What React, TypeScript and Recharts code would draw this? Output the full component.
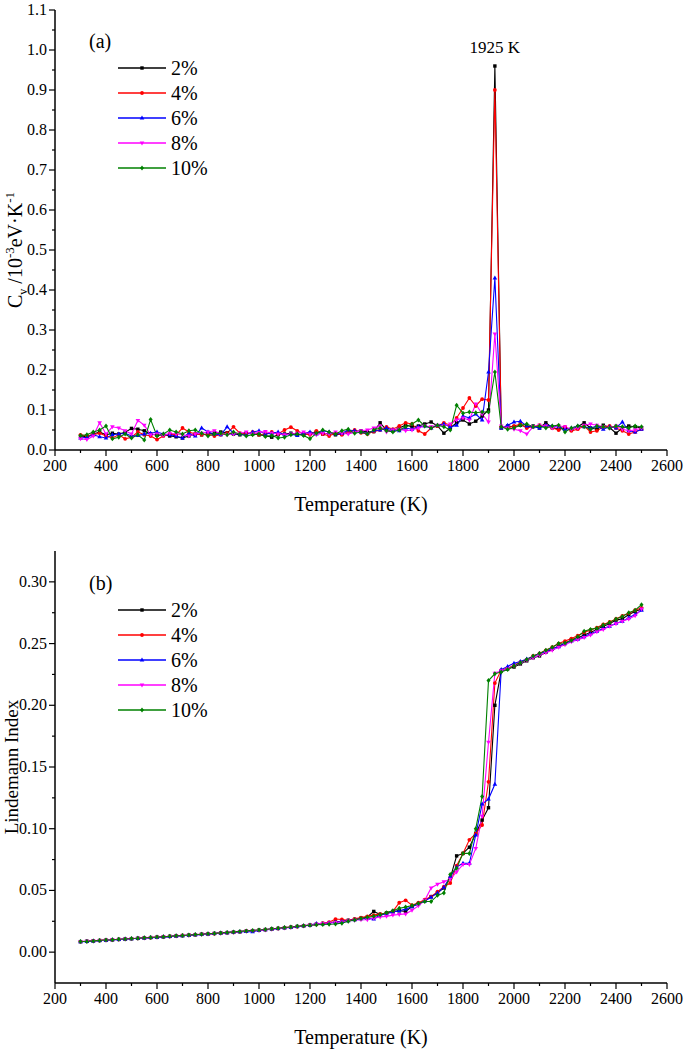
import React from "react";
import { LineChart, Line, XAxis, YAxis, ReferenceDot } from "recharts";

// temperatures (K), one point every 25 K
const temperature = [
  300, 325, 350, 375, 400, 425, 450, 475, 500, 525,
  550, 575, 600, 625, 650, 675, 700, 725, 750, 775,
  800, 825, 850, 875, 900, 925, 950, 975, 1000, 1025,
  1050, 1075, 1100, 1125, 1150, 1175, 1200, 1225, 1250, 1275,
  1300, 1325, 1350, 1375, 1400, 1425, 1450, 1475, 1500, 1525,
  1550, 1575, 1600, 1625, 1650, 1675, 1700, 1725, 1750, 1775,
  1800, 1825, 1850, 1875, 1900, 1925, 1950, 1975, 2000, 2025,
  2050, 2075, 2100, 2125, 2150, 2175, 2200, 2225, 2250, 2275,
  2300, 2325, 2350, 2375, 2400, 2425, 2450, 2475, 2500,
];

const seriesNames = ["2%", "4%", "6%", "8%", "10%"];

// (a) heat capacity, 10^-3 eV/K
const cv2 = [
  0.035, 0.033, 0.040, 0.045, 0.038, 0.042, 0.040, 0.044, 0.054, 0.052,
  0.048, 0.040, 0.037, 0.038, 0.035, 0.033, 0.030, 0.035, 0.040, 0.038,
  0.040, 0.042, 0.045, 0.043, 0.040, 0.038, 0.042, 0.040, 0.038, 0.036,
  0.032, 0.038, 0.040, 0.042, 0.040, 0.038, 0.042, 0.045, 0.040, 0.042,
  0.038, 0.040, 0.044, 0.046, 0.048, 0.045, 0.046, 0.068, 0.050, 0.048,
  0.055, 0.062, 0.058, 0.060, 0.065, 0.070, 0.060, 0.042, 0.055, 0.068,
  0.075, 0.065, 0.072, 0.085, 0.100, 0.960, 0.055, 0.060, 0.058, 0.062,
  0.058, 0.060, 0.055, 0.068, 0.056, 0.052, 0.055, 0.050, 0.058, 0.068,
  0.055, 0.052, 0.062, 0.056, 0.042, 0.055, 0.060, 0.058, 0.055,
];
const cv4 = [
  0.038, 0.035, 0.038, 0.042, 0.035, 0.030, 0.038, 0.028, 0.032, 0.045,
  0.038, 0.035, 0.026, 0.035, 0.040, 0.038, 0.055, 0.045, 0.040, 0.038,
  0.040, 0.035, 0.038, 0.042, 0.058, 0.042, 0.040, 0.045, 0.038, 0.040,
  0.045, 0.040, 0.050, 0.057, 0.048, 0.040, 0.038, 0.048, 0.040, 0.035,
  0.042, 0.038, 0.045, 0.050, 0.043, 0.040, 0.046, 0.050, 0.058, 0.052,
  0.060, 0.068, 0.065, 0.048, 0.040, 0.055, 0.060, 0.068, 0.062, 0.080,
  0.105, 0.130, 0.110, 0.127, 0.125, 0.900, 0.058, 0.055, 0.060, 0.065,
  0.055, 0.058, 0.062, 0.060, 0.055, 0.050, 0.058, 0.048, 0.052, 0.060,
  0.045, 0.048, 0.058, 0.060, 0.055, 0.048, 0.040, 0.045, 0.052,
];
const cv6 = [
  0.030, 0.032, 0.038, 0.033, 0.030, 0.038, 0.040, 0.042, 0.035, 0.036,
  0.040, 0.042, 0.045, 0.040, 0.038, 0.035, 0.030, 0.042, 0.035, 0.055,
  0.045, 0.040, 0.038, 0.058, 0.042, 0.040, 0.038, 0.045, 0.048, 0.040,
  0.042, 0.045, 0.038, 0.040, 0.036, 0.042, 0.045, 0.040, 0.048, 0.045,
  0.040, 0.042, 0.050, 0.048, 0.045, 0.042, 0.048, 0.050, 0.055, 0.050,
  0.048, 0.055, 0.052, 0.058, 0.060, 0.055, 0.062, 0.065, 0.058, 0.062,
  0.085, 0.080, 0.090, 0.075, 0.195, 0.430, 0.055, 0.062, 0.070, 0.072,
  0.060, 0.058, 0.055, 0.062, 0.060, 0.058, 0.052, 0.055, 0.060, 0.058,
  0.055, 0.060, 0.052, 0.058, 0.055, 0.070, 0.048, 0.045, 0.052,
];
const cv8 = [
  0.028, 0.026, 0.035, 0.068, 0.040, 0.058, 0.055, 0.048, 0.040, 0.074,
  0.062, 0.038, 0.040, 0.036, 0.042, 0.040, 0.038, 0.035, 0.040, 0.042,
  0.045, 0.048, 0.040, 0.038, 0.040, 0.042, 0.045, 0.040, 0.044, 0.046,
  0.042, 0.040, 0.038, 0.040, 0.042, 0.045, 0.040, 0.038, 0.042, 0.040,
  0.045, 0.042, 0.040, 0.044, 0.048, 0.050, 0.055, 0.060, 0.045, 0.050,
  0.052, 0.048, 0.050, 0.055, 0.060, 0.058, 0.062, 0.060, 0.065, 0.075,
  0.080, 0.075, 0.115, 0.090, 0.070, 0.290, 0.060, 0.055, 0.052, 0.048,
  0.040, 0.058, 0.062, 0.060, 0.055, 0.060, 0.058, 0.052, 0.055, 0.062,
  0.065, 0.062, 0.058, 0.055, 0.060, 0.052, 0.048, 0.050, 0.055,
];
const cv10 = [
  0.036, 0.038, 0.045, 0.050, 0.060, 0.028, 0.032, 0.040, 0.030, 0.038,
  0.025, 0.076, 0.035, 0.040, 0.050, 0.045, 0.040, 0.048, 0.050, 0.042,
  0.035, 0.040, 0.042, 0.038, 0.045, 0.040, 0.035, 0.038, 0.040, 0.034,
  0.036, 0.030, 0.032, 0.038, 0.040, 0.036, 0.028, 0.042, 0.050, 0.045,
  0.040, 0.048, 0.052, 0.042, 0.045, 0.040, 0.050, 0.055, 0.048, 0.045,
  0.050, 0.058, 0.065, 0.075, 0.060, 0.055, 0.062, 0.058, 0.050, 0.112,
  0.092, 0.095, 0.093, 0.095, 0.095, 0.195, 0.058, 0.052, 0.055, 0.062,
  0.065, 0.058, 0.060, 0.055, 0.060, 0.062, 0.045, 0.055, 0.060, 0.058,
  0.052, 0.060, 0.058, 0.055, 0.060, 0.058, 0.055, 0.060, 0.058,
];

// (b) Lindemann index
const lind2 = [
  0.0085, 0.0088, 0.0091, 0.0094, 0.0097, 0.0100, 0.0103, 0.0106, 0.0109, 0.0112,
  0.0115, 0.0118, 0.0121, 0.0124, 0.0128, 0.0131, 0.0134, 0.0138, 0.0141, 0.0145,
  0.0148, 0.0152, 0.0155, 0.0158, 0.0162, 0.0166, 0.0170, 0.0174, 0.0178, 0.0183,
  0.0188, 0.0192, 0.0197, 0.0202, 0.0208, 0.0214, 0.0219, 0.0225, 0.0232, 0.0238,
  0.0245, 0.0250, 0.0258, 0.0265, 0.0275, 0.0285, 0.0330, 0.0305, 0.0318, 0.0330,
  0.0335, 0.0330, 0.0370, 0.0392, 0.0418, 0.0450, 0.0480, 0.0520, 0.0600, 0.0780,
  0.0800, 0.0850, 0.0960, 0.1070, 0.1170, 0.2000, 0.2280, 0.2295, 0.2310, 0.2335,
  0.2360, 0.2385, 0.2400, 0.2430, 0.2455, 0.2480, 0.2500, 0.2530, 0.2545, 0.2570,
  0.2590, 0.2615, 0.2640, 0.2660, 0.2690, 0.2700, 0.2735, 0.2760, 0.2780,
];
const lind4 = [
  0.0086, 0.0088, 0.0092, 0.0095, 0.0098, 0.0100, 0.0104, 0.0106, 0.0110, 0.0112,
  0.0116, 0.0118, 0.0122, 0.0125, 0.0127, 0.0131, 0.0135, 0.0137, 0.0141, 0.0144,
  0.0148, 0.0150, 0.0154, 0.0158, 0.0160, 0.0165, 0.0170, 0.0173, 0.0178, 0.0182,
  0.0187, 0.0193, 0.0199, 0.0203, 0.0207, 0.0213, 0.0220, 0.0226, 0.0235, 0.0242,
  0.0268, 0.0265, 0.0258, 0.0270, 0.0280, 0.0290, 0.0300, 0.0310, 0.0315, 0.0330,
  0.0400, 0.0420, 0.0380, 0.0400, 0.0425, 0.0450, 0.0490, 0.0530, 0.0560, 0.0700,
  0.0800, 0.0910, 0.0960, 0.1030, 0.1380, 0.2180, 0.2285, 0.2300, 0.2325, 0.2350,
  0.2370, 0.2400, 0.2420, 0.2445, 0.2470, 0.2500, 0.2520, 0.2540, 0.2565, 0.2590,
  0.2610, 0.2630, 0.2655, 0.2675, 0.2700, 0.2725, 0.2745, 0.2770, 0.2790,
];
const lind6 = [
  0.0084, 0.0087, 0.0090, 0.0094, 0.0096, 0.0100, 0.0102, 0.0106, 0.0108, 0.0112,
  0.0114, 0.0118, 0.0120, 0.0124, 0.0126, 0.0130, 0.0133, 0.0137, 0.0140, 0.0144,
  0.0147, 0.0151, 0.0155, 0.0158, 0.0162, 0.0166, 0.0168, 0.0165, 0.0177, 0.0182,
  0.0187, 0.0192, 0.0198, 0.0202, 0.0207, 0.0213, 0.0220, 0.0232, 0.0230, 0.0236,
  0.0242, 0.0248, 0.0255, 0.0262, 0.0270, 0.0275, 0.0268, 0.0300, 0.0312, 0.0325,
  0.0335, 0.0350, 0.0368, 0.0392, 0.0415, 0.0445, 0.0480, 0.0525, 0.0610, 0.0690,
  0.0720, 0.0720, 0.0950, 0.1200, 0.1240, 0.1360, 0.2290, 0.2315, 0.2340, 0.2355,
  0.2375, 0.2395, 0.2420, 0.2435, 0.2460, 0.2475, 0.2500, 0.2520, 0.2535, 0.2555,
  0.2580, 0.2600, 0.2625, 0.2640, 0.2665, 0.2680, 0.2710, 0.2735, 0.2770,
];
const lind8 = [
  0.0085, 0.0088, 0.0091, 0.0094, 0.0097, 0.0100, 0.0103, 0.0106, 0.0109, 0.0112,
  0.0115, 0.0118, 0.0121, 0.0124, 0.0127, 0.0130, 0.0134, 0.0137, 0.0141, 0.0144,
  0.0147, 0.0150, 0.0154, 0.0158, 0.0162, 0.0165, 0.0169, 0.0173, 0.0176, 0.0180,
  0.0185, 0.0190, 0.0196, 0.0200, 0.0206, 0.0212, 0.0218, 0.0225, 0.0233, 0.0236,
  0.0240, 0.0245, 0.0252, 0.0258, 0.0262, 0.0262, 0.0275, 0.0285, 0.0290, 0.0300,
  0.0305, 0.0310, 0.0340, 0.0375, 0.0420, 0.0520, 0.0550, 0.0570, 0.0590, 0.0650,
  0.0710, 0.0710, 0.0840, 0.1100, 0.1700, 0.2260, 0.2280, 0.2295, 0.2320, 0.2340,
  0.2365, 0.2385, 0.2405, 0.2425, 0.2445, 0.2470, 0.2490, 0.2515, 0.2530, 0.2550,
  0.2570, 0.2595, 0.2615, 0.2640, 0.2660, 0.2680, 0.2700, 0.2725, 0.2780,
];
const lind10 = [
  0.0086, 0.0087, 0.0091, 0.0095, 0.0098, 0.0100, 0.0104, 0.0107, 0.0110, 0.0113,
  0.0116, 0.0119, 0.0122, 0.0125, 0.0128, 0.0132, 0.0135, 0.0138, 0.0142, 0.0145,
  0.0149, 0.0152, 0.0156, 0.0160, 0.0164, 0.0168, 0.0172, 0.0176, 0.0180, 0.0184,
  0.0189, 0.0194, 0.0199, 0.0204, 0.0209, 0.0214, 0.0218, 0.0222, 0.0224, 0.0226,
  0.0228, 0.0235, 0.0250, 0.0260, 0.0272, 0.0282, 0.0290, 0.0302, 0.0320, 0.0335,
  0.0355, 0.0365, 0.0378, 0.0395, 0.0410, 0.0410, 0.0460, 0.0480, 0.0630, 0.0680,
  0.0800, 0.0800, 0.1000, 0.1260, 0.2200, 0.2255, 0.2270, 0.2290, 0.2320, 0.2345,
  0.2370, 0.2400, 0.2420, 0.2445, 0.2470, 0.2500, 0.2505, 0.2525, 0.2555, 0.2600,
  0.2615, 0.2625, 0.2650, 0.2670, 0.2700, 0.2720, 0.2750, 0.2770, 0.2815,
];

const tempTicks = [
  200, 300, 400, 500, 600, 700, 800, 900, 1000, 1100, 1200, 1300, 1400,
  1500, 1600, 1700, 1800, 1900, 2000, 2100, 2200, 2300, 2400, 2500, 2600,
];
const cvTicks = [
  0, 0.05, 0.1, 0.15, 0.2, 0.25, 0.3, 0.35, 0.4, 0.45, 0.5, 0.55,
  0.6, 0.65, 0.7, 0.75, 0.8, 0.85, 0.9, 0.95, 1.0, 1.05, 1.1,
];
const lindTicks = [
  0, 0.025, 0.05, 0.075, 0.1, 0.125, 0.15, 0.175, 0.2, 0.225, 0.25, 0.275, 0.3,
];

const cvSeries = [cv2, cv4, cv6, cv8, cv10];
const lindSeries = [lind2, lind4, lind6, lind8, lind10];

const cvData = temperature.map((t, i) => {
  const row: Record<string, number> = { t };
  cvSeries.forEach((s, k) => (row["s" + k] = s[i]));
  return row;
});
const lindData = temperature.map((t, i) => {
  const row: Record<string, number> = { t };
  lindSeries.forEach((s, k) => (row["s" + k] = s[i]));
  return row;
});

const FONT = '"Liberation Serif", "Times New Roman", serif';
const colors = ["#000000", "#ff0000", "#0000ff", "#ff00ff", "#008000"];
const shapes = ["square", "circle", "up", "down", "diamond"];
const axisLine = { stroke: "#000", strokeWidth: 1.5 };

function Marker({ shape, cx, cy, color }: { shape: string; cx: number; cy: number; color: string }) {
  if (shape === "square") return <rect x={cx - 1.7} y={cy - 1.7} width={3.4} height={3.4} fill={color} />;
  if (shape === "circle") return <circle cx={cx} cy={cy} r={1.9} fill={color} />;
  if (shape === "up")
    return <path d={`M${cx},${cy - 2.5}L${cx + 2.3},${cy + 1.5}L${cx - 2.3},${cy + 1.5}Z`} fill={color} />;
  if (shape === "down")
    return <path d={`M${cx},${cy + 2.5}L${cx + 2.3},${cy - 1.5}L${cx - 2.3},${cy - 1.5}Z`} fill={color} />;
  return <path d={`M${cx},${cy - 2.5}L${cx + 2},${cy}L${cx},${cy + 2.5}L${cx - 2},${cy}Z`} fill={color} />;
}

const isMajor = (v: number, step: number) => Math.abs(v / step - Math.round(v / step)) < 1e-6;

function XTickBottom(props: any) {
  const { x, y, payload } = props;
  const major = isMajor(payload.value, 200);
  return (
    <g>
      <line x1={x} x2={x} y1={y} y2={y + (major ? 6 : 3)} stroke="#000" strokeWidth={1.2} />
      {major && (
        <text x={x} y={y + 21} textAnchor="middle" fontSize={16} fontFamily={FONT} fill="#000">
          {payload.value}
        </text>
      )}
    </g>
  );
}

function XTickTop(props: any) {
  const { x, y, payload } = props;
  const major = isMajor(payload.value, 200);
  return <line x1={x} x2={x} y1={y} y2={y + (major ? 6 : 3)} stroke="#000" strokeWidth={1.2} />;
}

const makeYTickLeft = (step: number, decimals: number) => (props: any) => {
  const { x, y, payload } = props;
  const major = isMajor(payload.value, step);
  return (
    <g>
      <line x1={x} x2={x - (major ? 6 : 3)} y1={y} y2={y} stroke="#000" strokeWidth={1.2} />
      {major && (
        <text x={x - 8} y={y + 5} textAnchor="end" fontSize={16} fontFamily={FONT} fill="#000">
          {payload.value.toFixed(decimals)}
        </text>
      )}
    </g>
  );
};

const makeYTickRight = (step: number) => (props: any) => {
  const { x, y, payload } = props;
  const major = isMajor(payload.value, step);
  return <line x1={x} x2={x - (major ? 6 : 3)} y1={y} y2={y} stroke="#000" strokeWidth={1.2} />;
};

function TempTitle(props: any) {
  const vb = props.viewBox;
  return (
    <text x={vb.x + vb.width / 2} y={vb.y + 61} textAnchor="middle" fontSize={20} fontFamily={FONT} fill="#000">
      Temperature (K)
    </text>
  );
}

function CvTitle(props: any) {
  const vb = props.viewBox;
  const cx = vb.x + 22;
  const cy = vb.y + vb.height / 2 + 20;
  return (
    <text transform={`translate(${cx},${cy}) rotate(-90)`} textAnchor="middle" fontSize={20} fontFamily={FONT} fill="#000">
      <tspan>C</tspan>
      <tspan dy={5} fontSize={12}>v</tspan>
      <tspan dy={-5}> /10</tspan>
      <tspan dy={-8} fontSize={13}>-3</tspan>
      <tspan dy={8}>eV·K</tspan>
      <tspan dy={-8} fontSize={13}>-1</tspan>
    </text>
  );
}

function LindTitle(props: any) {
  const vb = props.viewBox;
  const cx = vb.x + 18;
  const cy = vb.y + vb.height / 2;
  return (
    <text transform={`translate(${cx},${cy}) rotate(-90)`} textAnchor="middle" fontSize={19} fontFamily={FONT} fill="#000">
      Lindemann Index
    </text>
  );
}

function LegendBox({ top, panel }: { top: number; panel: string }) {
  return (
    <>
      <div style={{ position: "absolute", left: 89, top: top - 38, fontFamily: FONT, fontSize: 20 }}>{panel}</div>
      <div style={{ position: "absolute", left: 118, top: top - 12.5 }}>
        {seriesNames.map((name, k) => (
          <div key={name} style={{ display: "flex", alignItems: "center", height: 25 }}>
            <svg width={48} height={10}>
              <line x1={0} x2={48} y1={5} y2={5} stroke={colors[k]} strokeWidth={1.4} />
              <Marker shape={shapes[k]} cx={24} cy={5} color={colors[k]} />
            </svg>
            <span style={{ fontFamily: FONT, fontSize: 20, marginLeft: 5, lineHeight: "25px" }}>{name}</span>
          </div>
        ))}
      </div>
    </>
  );
}

function seriesLines() {
  return seriesNames.map((name, k) => (
    <Line
      key={name}
      xAxisId="b"
      yAxisId="l"
      dataKey={"s" + k}
      name={name}
      type="linear"
      stroke={colors[k]}
      strokeWidth={1.1}
      isAnimationActive={false}
      dot={(p: any) => (
        <Marker key={`${name}-${p.index}`} shape={shapes[k]} cx={p.cx} cy={p.cy} color={colors[k]} />
      )}
      activeDot={false}
    />
  ));
}

function Panel({ data, yDomain, yTicks, step, decimals, title, extra, height, margin }: any) {
  return (
    <LineChart width={685} height={height} data={data} margin={margin}>
      <XAxis
        xAxisId="b"
        dataKey="t"
        type="number"
        domain={[200, 2600]}
        ticks={tempTicks}
        interval={0}
        tickSize={0}
        tickMargin={0}
        tickLine={false}
        axisLine={axisLine}
        tick={XTickBottom}
        height={65}
        label={{ content: TempTitle }}
      />
      <XAxis
        xAxisId="t"
        orientation="top"
        dataKey="t"
        type="number"
        domain={[200, 2600]}
        ticks={tempTicks}
        interval={0}
        tickSize={0}
        tickMargin={0}
        tickLine={false}
        axisLine={axisLine}
        tick={XTickTop}
        height={0}
      />
      <YAxis
        yAxisId="l"
        type="number"
        domain={yDomain}
        ticks={yTicks}
        interval={0}
        tickSize={0}
        tickMargin={0}
        tickLine={false}
        axisLine={axisLine}
        tick={makeYTickLeft(step, decimals)}
        width={55}
        allowDataOverflow
        label={{ content: title }}
      />
      <YAxis
        yAxisId="r"
        orientation="right"
        type="number"
        domain={yDomain}
        ticks={yTicks}
        interval={0}
        tickSize={0}
        tickMargin={0}
        tickLine={false}
        axisLine={axisLine}
        tick={makeYTickRight(step)}
        width={0}
        allowDataOverflow
      />
      {seriesLines()}
      {extra}
    </LineChart>
  );
}

export default function App() {
  return (
    <div style={{ position: "absolute", left: 0, top: 0, width: 685, height: 1058, background: "#fff" }}>
      <div style={{ position: "absolute", left: 0, top: 0 }}>
        <Panel
          data={cvData}
          yDomain={[0, 1.1]}
          yTicks={cvTicks}
          step={0.1}
          decimals={1}
          title={CvTitle}
          height={525}
          margin={{ top: 10, right: 18, bottom: 10, left: 0 }}
          extra={
            <ReferenceDot
              xAxisId="b"
              yAxisId="l"
              x={1925}
              y={0.96}
              r={0}
              fill="none"
              stroke="none"
              label={{ value: "1925 K", position: "top", offset: 13, fontSize: 17, fontFamily: FONT, fill: "#000" }}
            />
          }
        />
      </div>
      <LegendBox top={68} panel="(a)" />
      <div style={{ position: "absolute", left: 0, top: 530 }}>
        <Panel
          data={lindData}
          yDomain={[-0.025, 0.325]}
          yTicks={lindTicks}
          step={0.05}
          decimals={2}
          title={LindTitle}
          height={528}
          margin={{ top: 21, right: 18, bottom: 10, left: 0 }}
        />
      </div>
      <LegendBox top={610} panel="(b)" />
    </div>
  );
}
